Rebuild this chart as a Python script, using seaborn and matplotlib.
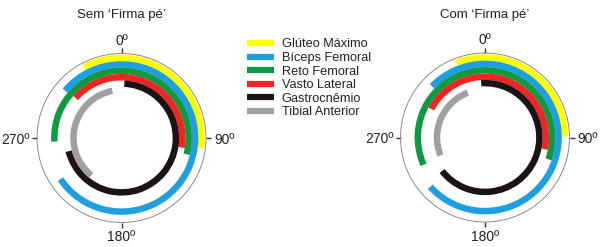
import numpy as np
import matplotlib
matplotlib.use("Agg")
import matplotlib.pyplot as plt
from matplotlib.lines import Line2D
import seaborn as sns

# ---- data (degrees, clockwise from top) ----
muscles = ['Glúteo Máximo', 'Bíceps Femoral', 'Reto Femoral',
           'Vasto Lateral', 'Gastrocnêmio', 'Tibial Anterior']
sem_start = [332, 310, 267, 311, 3, 219]
sem_end = [97, 236, 104, 99, 256, 349]
com_start = [339, 314, 246, 298, 356, 248]
com_end = [89, 228, 109, 101, 232, 339]
titles = ['Sem \u2018Firma pé\u2019', 'Com \u2018Firma pé\u2019']
tick_angles = [0, 90, 180, 270]
tick_labels = ['0º', '90º', '180º', '270º']

colors = ['#FFFF00', '#1E9FE2', '#0E9A40', '#F22323', '#1C1414', '#A0A0A0']

sns.set_theme(style='white')
plt.rcParams['font.family'] = ['Liberation Sans', 'DejaVu Sans']
palette = sns.color_palette(colors)

fig = plt.figure(figsize=(6.02, 2.47), dpi=100)
W, H = 602, 247
R = 84.5
ring_r = [80.0, 73.6, 67.2, 60.8, 54.4, 48.0]
ring_w = 6.5
PX = 0.72  # points per pixel at dpi 100

# label placement (pixels from circle edge): (dx, dy, ha, va)
label_place = {0: (0, 12.5, 'center', 'center'),
               90: (8, -1.5, 'left', 'center'),
               180: (0, -14.5, 'center', 'center'),
               270: (-7, -1.5, 'right', 'center')}


def make_ax(cx, cy):
    return fig.add_axes([(cx - R) / W, (H - cy - R) / H, 2 * R / W, 2 * R / H],
                        projection='polar')


def draw(ax, starts, ends, title, cx):
    ax.set_theta_zero_location('N')
    ax.set_theta_direction(-1)
    for s, e, r, c in zip(starts, ends, ring_r, palette):
        ext = (e - s) % 360
        ax.bar(np.deg2rad(s), ring_w, width=np.deg2rad(ext), bottom=r - ring_w / 2,
               align='edge', color=c, edgecolor='none', linewidth=0)
    ax.set_ylim(0, R)
    ax.set_yticks([])
    ax.grid(False)
    ax.set_xticks([])
    for a, lab in zip(tick_angles, tick_labels):
        th = np.deg2rad(a)
        ax.plot([th, th], [R, R + 5], color='#333333', lw=1.0,
                clip_on=False, solid_capstyle='butt')
        dx, dy, ha, va = label_place[a]
        ax.annotate(lab, xy=(th, R), xytext=(dx * PX, dy * PX),
                    textcoords='offset points', ha=ha, va=va,
                    fontsize=10, color='#222222', annotation_clip=False)
    ax.set_ylim(0, R)
    ax.spines['polar'].set_color('#8a8a8a')
    ax.spines['polar'].set_linewidth(0.7)
    ax.set_facecolor('white')
    fig.text(cx / W, 1 - 15 / H, title, ha='center', va='center',
             fontsize=9.5, color='#222222')


ax1 = make_ax(121.5, 138)
draw(ax1, sem_start, sem_end, titles[0], 121)
ax2 = make_ax(485, 137.5)
draw(ax2, com_start, com_end, titles[1], 485)

handles = [Line2D([0], [0], color=c, linewidth=4.5, solid_capstyle='butt')
           for c in palette]
fig.legend(handles, muscles, loc='upper left',
           bbox_to_anchor=(247 / W, 1 - 38.5 / H), frameon=False,
           fontsize=9.2, handlelength=2.1, handletextpad=0.6,
           labelspacing=0.12, borderpad=0, borderaxespad=0,
           labelcolor='#222222')

fig.savefig('out.png', dpi=100, facecolor='white')
